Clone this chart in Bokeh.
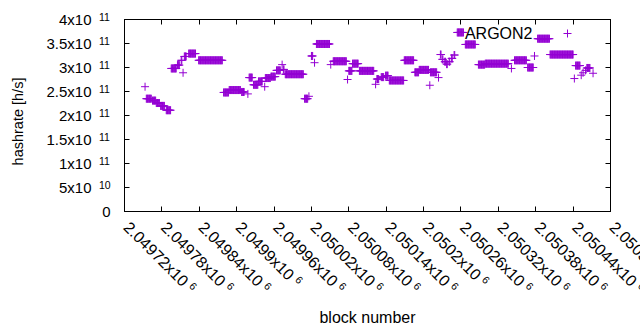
import math
from bokeh.plotting import figure
from bokeh.models import (Range1d, FixedTicker, LinearAxis, Label, Legend, LegendItem,
                          ColumnDataSource, CustomJSTickFormatter)
from bokeh.core.properties import value
from bokeh.embed import file_html
from bokeh.resources import INLINE

# ---- data: runs of constant hashrate (first block, last block, value) ----
run_start = [2049753, 2049755, 2049765, 2049771, 2049778, 2049787, 2049795, 2049805, 2049811, 2049814,
             2049816, 2049823, 2049839, 2049879, 2049888, 2049908, 2049918, 2049920, 2049927, 2049935,
             2049945, 2049946, 2049955, 2049964, 2049973, 2049975, 2049978, 2050009, 2050016, 2050020,
             2050025, 2050028, 2050051, 2050055, 2050078, 2050080, 2050086, 2050097, 2050123, 2050125,
             2050132, 2050139, 2050145, 2050169, 2050186, 2050193, 2050210, 2050211, 2050224, 2050227,
             2050230, 2050234, 2050237, 2050241, 2050245, 2050249, 2050254, 2050267, 2050288, 2050299,
             2050341, 2050346, 2050367, 2050378, 2050383, 2050403, 2050442, 2050444, 2050453, 2050456,
             2050460, 2050462, 2050472]
run_end = [2049753, 2049763, 2049770, 2049776, 2049784, 2049794, 2049803, 2049808, 2049812, 2049814,
           2049819, 2049834, 2049877, 2049887, 2049906, 2049912, 2049918, 2049925, 2049934, 2049941,
           2049945, 2049954, 2049962, 2049970, 2049973, 2049976, 2050007, 2050014, 2050016, 2050022,
           2050025, 2050049, 2050051, 2050076, 2050078, 2050085, 2050095, 2050120, 2050123, 2050128,
           2050136, 2050143, 2050168, 2050184, 2050192, 2050208, 2050210, 2050221, 2050224, 2050228,
           2050231, 2050235, 2050238, 2050242, 2050246, 2050250, 2050264, 2050283, 2050298, 2050336,
           2050341, 2050365, 2050376, 2050378, 2050402, 2050440, 2050442, 2050451, 2050453, 2050456,
           2050460, 2050467, 2050472]
run_value = [2.60e11, 2.35e11, 2.31e11, 2.26e11, 2.20e11, 2.11e11, 2.98e11, 3.05e11, 3.15e11, 2.89e11,
             3.23e11, 3.29e11, 3.15e11, 2.48e11, 2.53e11, 2.49e11, 2.45e11, 2.79e11, 2.64e11, 2.71e11,
             2.60e11, 2.78e11, 2.81e11, 2.94e11, 3.06e11, 2.96e11, 2.86e11, 2.35e11, 2.40e11, 3.24e11,
             3.10e11, 3.49e11, 3.06e11, 3.13e11, 2.75e11, 2.93e11, 3.08e11, 2.93e11, 2.65e11, 2.76e11,
             2.80e11, 2.83e11, 2.73e11, 3.15e11, 2.90e11, 2.95e11, 2.63e11, 2.90e11, 2.79e11, 3.27e11,
             3.17e11, 3.12e11, 3.07e11, 3.12e11, 3.19e11, 3.26e11, 3.73e11, 3.48e11, 3.06e11, 3.08e11,
             2.98e11, 3.15e11, 3.00e11, 3.24e11, 3.60e11, 3.27e11, 2.77e11, 3.04e11, 2.84e11, 2.89e11,
             2.94e11, 2.99e11, 2.88e11]
series_name = "ARGON2"
x_title = "block number"
y_title = "hashrate [h/s]"

x_ticks = [2049720, 2049780, 2049840, 2049900, 2049960, 2050020, 2050080,
           2050140, 2050200, 2050260, 2050320, 2050380, 2050440, 2050500]
x_tick_base = ["2.04972x10", "2.04978x10", "2.04984x10", "2.0499x10", "2.04996x10", "2.05002x10",
               "2.05008x10", "2.05014x10", "2.0502x10", "2.05026x10", "2.05032x10", "2.05038x10",
               "2.05044x10", "2.0505x10"]
x_tick_exp = ["6"] * len(x_ticks)
y_ticks = [0, 5e10, 1e11, 1.5e11, 2e11, 2.5e11, 3e11, 3.5e11, 4e11]
y_tick_base = ["0", "5x10", "1x10", "1.5x10", "2x10", "2.5x10", "3x10", "3.5x10", "4x10"]
y_tick_exp = ["", "10", "11", "11", "11", "11", "11", "11", "11"]

# expand runs to one point per block
xs, ys = [], []
for s, e, v in zip(run_start, run_end, run_value):
    for b in range(s, e + 1):
        xs.append(b)
        ys.append(v)

COLOR = "#9400D3"
FONT = "Liberation Sans"
YTICK_FS = 15
XTICK_FS = 16
EXP_FS = 10.5

X0, X1 = x_ticks[0], x_ticks[-1]
Y0, Y1 = y_ticks[0], y_ticks[-1]

p = figure(width=640, height=330, output_backend="svg", toolbar_location=None,
           x_range=Range1d(X0, X1), y_range=Range1d(Y0, Y1),
           min_border_left=124, min_border_right=30, min_border_top=19, min_border_bottom=119,
           x_axis_label=x_title)
p.grid.visible = False
p.outline_line_color = "black"
p.outline_line_width = 1
p.background_fill_color = "white"
p.border_fill_color = "white"

empty = CustomJSTickFormatter(code="return ''")


def style_axis(ax, ticks):
    ax.ticker = FixedTicker(ticks=ticks)
    ax.formatter = empty
    ax.major_tick_in = 5
    ax.major_tick_out = 0
    ax.minor_tick_line_color = None
    ax.major_label_standoff = 0
    ax.major_label_text_font_size = "0px"
    ax.axis_line_color = "black"
    ax.major_tick_line_color = "black"
    ax.axis_label_text_font = FONT
    ax.axis_label_text_font_style = "normal"
    ax.axis_label_text_color = "black"


style_axis(p.xaxis[0], x_ticks)
style_axis(p.yaxis[0], y_ticks)
p.xaxis[0].axis_label_text_font_size = "16px"
p.xaxis[0].axis_label_standoff = 97

top_ax = LinearAxis()
style_axis(top_ax, x_ticks)
p.add_layout(top_ax, "above")
right_ax = LinearAxis()
style_axis(right_ax, y_ticks)
p.add_layout(right_ax, "right")

src = ColumnDataSource(data=dict(x=xs, y=ys))
r = p.scatter("x", "y", source=src, marker="cross", size=8, line_color=COLOR, line_width=1)

# legend: text right-aligned, sample to its right (gnuplot style)
leg = Legend(items=[LegendItem(label=" ", renderers=[r])], location=(433, 168),
             padding=0, margin=0, spacing=0, glyph_width=20, glyph_height=20,
             label_width=0, label_height=20, label_standoff=0,
             border_line_alpha=0, background_fill_alpha=0, label_text_font_size="1px")
p.add_layout(leg)
p.add_layout(Label(x=X1, y=Y1, x_offset=-78, y_offset=-13.5, text=series_name,
                   text_align="right", text_baseline="middle", text_font=FONT,
                   text_font_size="16px", text_color="black"))

# y axis title (placed like gnuplot's, slightly below the frame centre)
p.text(x=[X0], y=[(Y0 + Y1) / 2], text=[y_title], x_offset=-107, y_offset=6, angle=math.pi / 2,
       text_align="center", text_baseline="middle", text_font=value(FONT),
       text_font_size="14.5px", text_color="black", level="overlay")

# ---- tick labels (text glyphs at overlay level so they are drawn outside the frame) ----
c = math.cos(math.pi / 4)
ANG = -math.pi / 4
CW = {"0": .556, "1": .556, "2": .556, "3": .556, "4": .556, "5": .556, "6": .556,
      "7": .556, "8": .556, "9": .556, ".": .278, "x": .5}

# y: base text and exponent
yb = dict(x=[], y=[], t=[], xo=[])
ye = dict(x=[], y=[], t=[])
for v, base, ex in zip(y_ticks, y_tick_base, y_tick_exp):
    yb["x"].append(X0); yb["y"].append(v); yb["t"].append(base)
    yb["xo"].append(-33 if ex else -14)
    if ex:
        ye["x"].append(X0); ye["y"].append(v); ye["t"].append(ex)
p.text(x="x", y="y", text="t", x_offset="xo", source=ColumnDataSource(yb),
       text_align="right", text_baseline="middle", text_font=value(FONT),
       text_font_size=f"{YTICK_FS}px", text_color="black", level="overlay")
p.text(x="x", y="y", text="t", x_offset=-25.5, y_offset=-3, source=ColumnDataSource(ye),
       text_align="left", text_baseline="middle", text_font=value(FONT),
       text_font_size=f"{EXP_FS}px", text_color="black", level="overlay")

# x: rotated base text and exponent
XO, YO, GAP, RAISE = 2, 13, 4.3, 3.8
xb = dict(x=[], y=[], t=[])
xe = dict(x=[], y=[], t=[], xo=[], yo=[])
for t, base, ex in zip(x_ticks, x_tick_base, x_tick_exp):
    xb["x"].append(t); xb["y"].append(Y0); xb["t"].append(base)
    d = sum(CW[ch] for ch in base) * XTICK_FS + GAP
    xe["x"].append(t); xe["y"].append(Y0); xe["t"].append(ex)
    xe["xo"].append(XO + (d + RAISE) * c)
    xe["yo"].append(YO + (d - RAISE) * c)
p.text(x="x", y="y", text="t", x_offset=XO, y_offset=YO, angle=ANG, source=ColumnDataSource(xb),
       text_align="left", text_baseline="middle", text_font=value(FONT),
       text_font_size=f"{XTICK_FS}px", text_color="black", level="overlay")
p.text(x="x", y="y", text="t", x_offset="xo", y_offset="yo", angle=ANG, source=ColumnDataSource(xe),
       text_align="left", text_baseline="middle", text_font=value(FONT),
       text_font_size=f"{EXP_FS}px", text_color="black", level="overlay")

open("out.html", "w").write(file_html(p, INLINE))
